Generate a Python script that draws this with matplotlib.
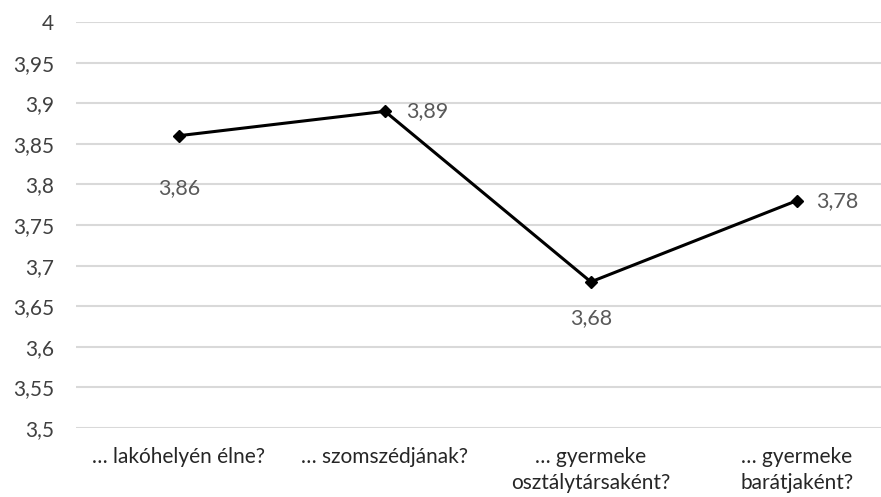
import matplotlib.pyplot as plt
from matplotlib.ticker import FuncFormatter, MultipleLocator

plt.rcParams['font.family'] = ['Lato', 'DejaVu Sans']

# data
categories = ['… lakóhelyén élne?', '… szomszédjának?',
              '… gyermeke\nosztálytársaként?', '… gyermeke\nbarátjaként?']
values = [3.86, 3.89, 3.68, 3.78]

# label placement (points offset from the marker)
label_offsets = [(0, -38), (15, 0), (0, -26), (14, 0)]

fig = plt.figure(figsize=(8.81, 4.97), dpi=100)
ax = fig.add_axes([0.0863, 0.1388, 0.935, 0.8169])

x = list(range(len(values)))
ax.plot(x, values, color='black', linewidth=2.2, marker='D', markersize=6, zorder=3)

# data labels
for xi, v, off in zip(x, values, label_offsets):
    txt = f'{v:.2f}'.replace('.', ',')
    ha = 'center' if off[0] == 0 else 'left'
    ax.annotate(txt, (xi, v), xytext=off, textcoords='offset points',
                ha=ha, va='center', fontsize=15.5, color='#595959')

ax.set_xlim(-0.5, 3.5)
ax.set_ylim(3.5, 4.0)
ax.yaxis.set_major_locator(MultipleLocator(0.05))
ax.yaxis.set_major_formatter(FuncFormatter(lambda v, p: f'{v:.2f}'.rstrip('0').rstrip('.').replace('.', ',')))
ax.grid(axis='y', color='#d9d9d9', linewidth=1.5)
ax.set_axisbelow(True)

ax.set_xticks(x)
ax.set_xticklabels(categories, fontsize=15, color='#262626', va='top', linespacing=1.35)
ax.tick_params(axis='y', labelsize=15, labelcolor='#404040', length=0, pad=16)
ax.tick_params(axis='x', length=0, pad=14)
for s in ax.spines.values():
    s.set_visible(False)

fig.savefig('out.png', dpi=100)
